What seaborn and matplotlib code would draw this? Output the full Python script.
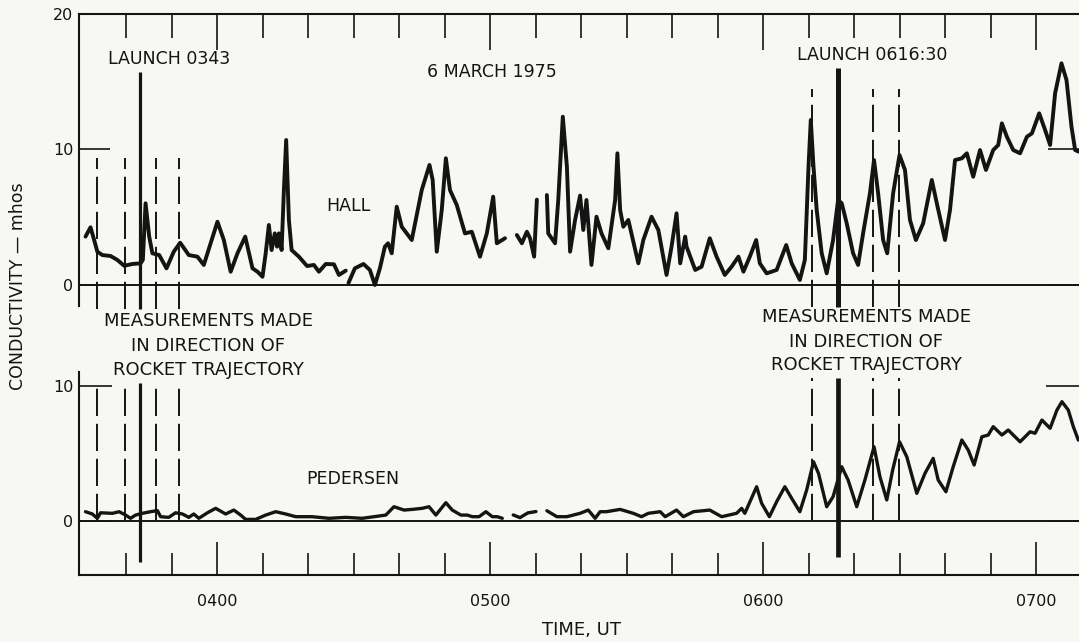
import numpy as np
import pandas as pd
import matplotlib
matplotlib.use("Agg")
import matplotlib.pyplot as plt
import seaborn as sns

# ---------------------------------------------------------------
# Data: time in minutes after 0300 UT, conductivity in mhos.
# NaN entries mark breaks in the recorded trace.
# ---------------------------------------------------------------
nan = np.nan

hall_time = [
    31.1, 32.2, 33.0, 33.7, 34.8, 36.6, 38.1, 39.6, 41.4, 43.2, 43.7, 44.3,
    45.1, 45.8, 47.3, 48.9, 50.5, 51.9, 53.8, 55.7, 57.1, 58.6, 60.1, 61.5,
    63.0, 64.5, 66.2, 67.8, 68.9, 70.0, 70.7, 71.4, 72.0, 72.7, 73.2, 73.6,
    74.2, 74.7, 75.2, 75.8, 76.4, 78.0, 79.8, 81.3, 82.4, 83.9, 85.7, 86.8,
    88.3, nan,
    88.9, 90.3, 92.2, 93.6, 94.7, 95.8, 96.9, 97.6, 98.4, 99.5, 100.6, 102.8,
    105.0, 106.7, 107.4, 108.3, 109.4, 110.3, 111.2, 112.7, 114.5, 116.0,
    117.8, 119.3, 120.7, 121.5, 123.3, nan,
    125.9, 127.0, 128.1, 128.8, 129.7, 130.3, nan,
    132.5, 132.8, 134.3, 135.0, 136.0, 136.9, 137.6, 138.7, 139.8, 140.5,
    141.2, 142.3, 143.4, 144.5, 146.0, 147.5, 148.0, 148.6, 149.3, 150.4,
    152.6, 153.7, 155.5, 157.0, 158.8, 159.9, 161.0, 161.8, 162.9, 163.2,
    165.1, 166.5, 168.3, 169.8, 171.6, 173.1, 174.6, 175.7, 177.1, 178.5,
    179.3, 180.8, 183.0, 185.1, 186.3, 188.1, 189.2, 190.0, 190.5, 191.1,
    191.8, 192.9, 194.0, 195.4, 196.5, 197.3, 198.4, 199.8, 200.9, 202.0,
    203.5, 204.4, 205.3, 206.4, 207.3, 208.6, 210.0, 211.2, 212.3, 213.6,
    215.2, 217.1, 218.2, 220.0, 221.1, 222.2, 223.7, 224.8, 226.2, 227.7,
    229.0, 230.6, 231.7, 232.5, 233.6, 235.0, 236.5, 238.0, 239.1, 240.7,
    242.0, 243.1, 244.2, 245.6, 246.7, 247.8, 248.6, 249.4,
]
hall_value = [
    3.57, 4.26, 3.32, 2.46, 2.21, 2.14, 1.85, 1.42, 1.55, 1.60, 1.85, 6.03,
    3.57, 2.34, 2.21, 1.23, 2.46, 3.12, 2.21, 2.09, 1.48, 3.08, 4.67, 3.32,
    0.98, 2.34, 3.57, 1.23, 0.98, 0.61, 2.34, 4.43, 2.58, 3.81, 2.83, 3.81,
    2.58, 7.01, 10.70, 4.80, 2.58, 2.09, 1.40, 1.48, 0.98, 1.55, 1.53, 0.74,
    1.06, nan,
    0.15, 1.23, 1.55, 1.11, 0.00, 1.23, 2.83, 3.08, 2.34, 5.78, 4.30, 3.32,
    7.01, 8.86, 7.75, 2.46, 5.54, 9.35, 7.01, 5.90, 3.81, 3.93,
    2.09, 3.81, 6.52, 3.08, 3.45, nan,
    3.69, 3.08, 3.93, 3.45, 2.09, 6.30, nan,
    6.64, 3.81, 3.08, 6.27, 12.42, 8.73, 2.46, 4.80, 6.60, 4.06,
    6.27, 1.48, 5.04, 3.81, 2.71, 6.27, 9.72, 5.54, 4.30, 4.80,
    1.60, 3.32, 5.04, 4.06, 0.74, 2.83, 5.29, 1.60, 3.57, 2.83,
    1.11, 1.35, 3.45, 2.09, 0.74, 1.35, 2.09, 0.98, 2.09, 3.32,
    1.60, 0.86, 1.11, 2.95, 1.60, 0.37, 1.85, 8.73, 12.18, 8.73,
    5.54, 2.34, 0.86, 3.32, 6.27, 6.03, 4.55, 2.34, 1.48, 3.81,
    6.77, 9.22, 6.77, 3.32, 2.34, 6.77, 9.59, 8.49, 4.80, 3.32,
    4.55, 7.75, 6.03, 3.32, 5.54, 9.22, 9.35, 9.72, 7.99, 9.96,
    8.49, 9.96, 10.33, 11.93, 10.94, 9.96, 9.72, 10.94, 11.19, 12.67,
    11.44, 10.33, 14.15, 16.36, 15.13, 11.68, 9.96, 9.84,
]

pedersen_time = [
    31.1, 32.6, 33.7, 34.4, 37.0, 38.5, 39.9, 41.0, 42.1, 43.6, 45.4, 46.9,
    47.6, 49.4, 50.9, 52.4, 53.8, 54.9, 56.0, 57.9, 59.7, 61.9, 63.7, 65.2,
    66.3, 68.5, 70.7, 72.9, 75.1, 77.3, 80.9, 84.6, 88.3, 91.9, 95.6, 97.1,
    98.9, 101.1, 102.9, 105.1, 106.6, 108.1, 110.3, 111.7, 113.6, 115.0,
    116.1, 117.6, 119.1, 120.5, 121.6, 122.7, nan,
    125.1, 126.6, 128.3, 130.1, nan,
    132.5, 134.7, 136.9, 139.8, 141.6, 143.1, 144.2, 145.6, 148.6, 151.5,
    153.3, 154.8, 157.4, 158.5, 161.0, 162.5, 164.7, 168.3, 170.9, 174.2,
    175.3, 176.0, 178.6, 179.7, 181.4, 183.0, 184.8, 186.3, 188.1, 189.6,
    191.1, 192.2, 194.0, 195.4, 197.3, 198.7, 200.6, 202.4, 204.4, 205.7,
    207.2, 208.5, 210.0, 211.6, 213.8, 215.6, 217.4, 218.5, 220.2, 221.8,
    223.7, 225.1, 226.4, 228.1, 229.5, 230.6, 232.5, 233.9, 236.5, 237.6,
    238.7, 239.8, 241.3, 243.1, 244.6, 245.7, 247.1, 248.2, 249.3,
]
pedersen_value = [
    0.69, 0.52, 0.20, 0.61, 0.57, 0.69, 0.44, 0.20, 0.44, 0.57, 0.69, 0.77,
    0.32, 0.27, 0.61, 0.52, 0.27, 0.52, 0.20, 0.61, 0.94, 0.52, 0.81, 0.44,
    0.12, 0.12, 0.44, 0.69, 0.52, 0.32, 0.32, 0.20, 0.27, 0.20, 0.37, 0.44,
    1.06, 0.81, 0.86, 0.94, 1.06, 0.44, 1.36, 0.81, 0.44, 0.44,
    0.32, 0.32, 0.69, 0.32, 0.32, 0.20, nan,
    0.45, 0.25, 0.60, 0.70, nan,
    0.76, 0.32, 0.32, 0.57, 0.81, 0.20, 0.69, 0.69, 0.86, 0.57,
    0.32, 0.57, 0.69, 0.32, 0.81, 0.32, 0.69, 0.81, 0.32, 0.57,
    0.94, 0.57, 2.54, 1.31, 0.32, 1.43, 2.54, 1.68, 0.69, 2.30,
    4.39, 3.53, 1.06, 1.80, 4.02, 3.04, 1.06, 3.04, 5.50, 3.28,
    1.56, 3.78, 5.87, 4.76, 2.05, 3.53, 4.64, 3.04, 2.17, 4.02,
    6.00, 5.26, 4.15, 6.24, 6.37, 6.99, 6.37, 6.74, 5.87, 6.24,
    6.61, 6.50, 7.48, 6.87, 8.22, 8.84, 8.22, 6.99, 6.00,
]

# rocket launches (0343 and 0616:30 UT) and directed measurements
launch_times = [43.0, 196.5]
early_scan_times = [33.6, 39.8, 46.6, 51.6]
late_scan_times = [190.8, 204.2, 209.9]

hour_labels = ["0400", "0500", "0600", "0700"]


def to_minutes(label):
    return (int(label[:2]) - 3) * 60 + int(label[2:])


def segmented(t, v):
    df = pd.DataFrame({"time": t, "value": v})
    df["segment"] = df["value"].isna().cumsum()
    return df.dropna()


# ---------------------------------------------------------------
# Figure
# ---------------------------------------------------------------
sns.set_theme(style="white")
plt.rcParams["font.family"] = ["DejaVu Sans"]

BG = "#f7f7f4"
INK = "#141414"
W, H = 1079, 642

fig = plt.figure(figsize=(W / 100, H / 100), dpi=100, facecolor=BG)


def fx(x):
    return x / W


def fy(y):
    return 1 - y / H


ax_h = fig.add_axes([fx(79), fy(306), 1 - fx(79), (306 - 14) / H])
ax_p = fig.add_axes([fx(79), fy(575), 1 - fx(79), (575 - 372) / H])

xlim = (29.67, 249.45)
ax_h.set_xlim(*xlim)
ax_p.set_xlim(*xlim)
ax_h.set_ylim(-1.55, 20)
ax_p.set_ylim(-4.0, 11.04)

line_kw = dict(estimator=None, units="segment", sort=False, color=INK,
               legend=False, solid_joinstyle="round", solid_capstyle="round")
sns.lineplot(data=segmented(hall_time, hall_value), x="time", y="value",
             ax=ax_h, lw=2.8, **line_kw)
sns.lineplot(data=segmented(pedersen_time, pedersen_value), x="time",
             y="value", ax=ax_p, lw=2.4, **line_kw)

for ax in (ax_h, ax_p):
    ax.set_facecolor("none")
    ax.set_xlabel("")
    ax.set_ylabel("")
    ax.axhline(0, color=INK, lw=1.4, zorder=1)
    for s in ax.spines.values():
        s.set_color(INK)
        s.set_linewidth(1.5)
    ax.spines["right"].set_visible(False)

ax_h.spines["bottom"].set_visible(False)
ax_p.spines["top"].set_visible(False)

# launch markers and measurement directions
dash = (0, (14, 4))
ax_h.vlines(launch_times[0], -1.8, 15.7, color=INK, lw=2.3, clip_on=False)
ax_h.vlines(launch_times[1], -1.6, 16.0, color=INK, lw=3.6, clip_on=False)
ax_h.vlines(early_scan_times, -1.8, 9.4, color=INK, lw=1.4,
            linestyles=dash, clip_on=False)
ax_h.vlines(late_scan_times, -1.6, 14.5, color=INK, lw=1.4,
            linestyles=dash, clip_on=False)
ax_p.vlines(launch_times[0], -3.0, 10.2, color=INK, lw=2.3)
ax_p.vlines(launch_times[1], -2.7, 10.6, color=INK, lw=3.4)
ax_p.vlines(early_scan_times, 0, 10.2, color=INK, lw=1.4, linestyles=dash)
ax_p.vlines(late_scan_times, 0, 10.6, color=INK, lw=1.4, linestyles=dash)

# time ticks
hour_pos = [to_minutes(l) for l in hour_labels]
minor_pos = [m for m in range(40, 250, 10) if m not in hour_pos]

ax_h.xaxis.tick_top()
ax_h.set_xticks(hour_pos)
ax_h.set_xticks(minor_pos, minor=True)
ax_h.tick_params(axis="x", which="major", direction="in", length=26,
                 width=1.2, color=INK, labeltop=False, labelbottom=False)
ax_h.tick_params(axis="x", which="minor", direction="in", length=17,
                 width=1.2, color=INK, top=True, bottom=False)

ax_p.set_xticks(hour_pos, labels=hour_labels)
ax_p.set_xticks(minor_pos, minor=True)
ax_p.tick_params(axis="x", which="major", direction="in", length=24,
                 width=1.2, color=INK, labelsize=11.5, labelcolor=INK,
                 pad=14, bottom=True, top=False)
ax_p.tick_params(axis="x", which="minor", direction="in", length=16,
                 width=1.2, color=INK, bottom=True, top=False)

ax_h.set_yticks([0, 10, 20])
ax_p.set_yticks([0, 10])
for ax, ln in ((ax_h, 22), (ax_p, 24)):
    ax.tick_params(axis="y", which="major", direction="in", length=ln,
                   width=1.2, color=INK, left=True, right=True,
                   labelleft=True, labelright=False, labelsize=11.5,
                   labelcolor=INK, pad=4)

# annotations
txt = dict(color=INK, ha="center", va="center")
ax_h.text(49.4, 16.7, "LAUNCH 0343", fontsize=12.5, **txt)
ax_h.text(120.4, 15.7, "6 MARCH 1975", fontsize=12.5, **txt)
ax_h.text(203.9, 17.0, "LAUNCH 0616:30", fontsize=12.5, **txt)
ax_h.text(88.8, 5.85, "HALL", fontsize=12.5, **txt)
ax_p.text(89.9, 3.1, "PEDERSEN", fontsize=12.5, **txt)

note = ["MEASUREMENTS MADE", "IN DIRECTION OF", "ROCKET TRAJECTORY"]
for line, y in zip(note, (321, 346, 370)):
    fig.text(fx(208), fy(y), line, fontsize=13, **txt)
for line, y in zip(note, (317, 342, 365)):
    fig.text(fx(866), fy(y), line, fontsize=13, **txt)

fig.text(fx(582), fy(630), "TIME, UT", fontsize=13, **txt)
fig.text(fx(18), fy(286), "CONDUCTIVITY — mhos", rotation=90,
         fontsize=12.5, **txt)

fig.savefig("out.png", dpi=100, facecolor=BG)
